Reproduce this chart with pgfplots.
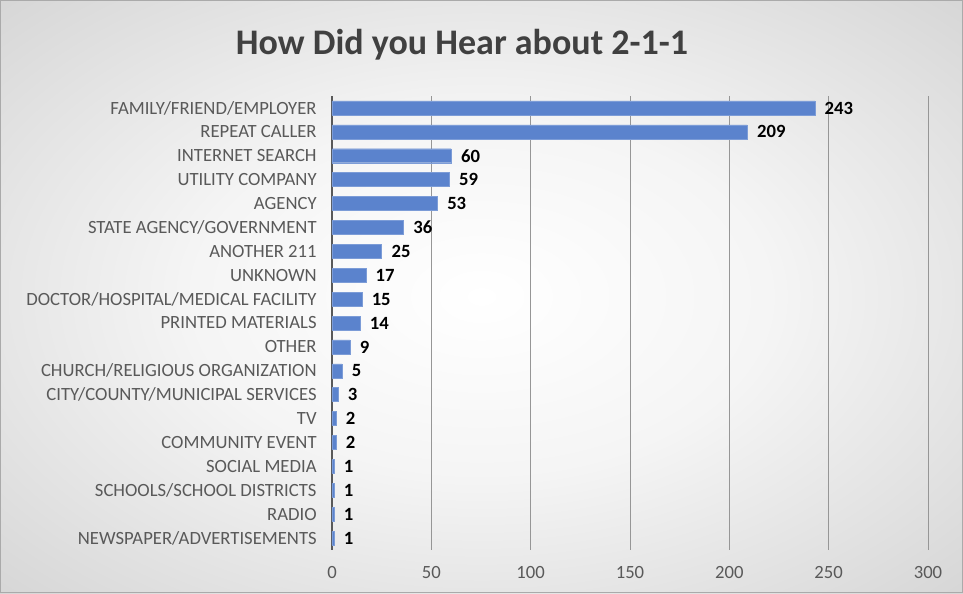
\documentclass[border=0pt]{standalone}
\usepackage{pgfplots}
\pgfplotsset{compat=1.18}
\usepackage{fontspec}
\setmainfont{Carlito}
\definecolor{barblue}{RGB}{91,131,205}
\definecolor{gridgray}{RGB}{150,150,150}
\definecolor{txtgray}{RGB}{89,89,89}
\definecolor{titlegray}{RGB}{64,64,64}
\definecolor{edgegray}{RGB}{200,200,200}
\definecolor{framegray}{RGB}{170,170,170}
\pgfdeclareradialshading{bgshade}{\pgfpoint{0bp}{0bp}}{color(0bp)=(white); color(15bp)=(white!96!black); color(45bp)=(edgegray); color(80bp)=(edgegray!88!black)}
\begin{document}
\begin{tikzpicture}
\path[use as bounding box] (-249pt,-32.25pt) rectangle (473.25pt,412.5pt);
\shade[shading=bgshade] (-249pt,-32.25pt) rectangle (473.25pt,412.5pt);
\draw[framegray, line width=0.8pt] (-248.6pt,-31.85pt) rectangle (472.85pt,412.1pt);
\node[font=\fontsize{27}{32}\selectfont\bfseries, text=titlegray] at (97.5pt,378.75pt) {How Did you Hear about 2-1-1};
\begin{axis}[
  at={(0pt,0pt)}, anchor=south west,
  scale only axis, width=447pt, height=340.5pt,
  xbar, bar width=10.5pt,
  xmin=0, xmax=300, ymin=-0.5, ymax=18.5, y dir=reverse,
  xtick={0,50,...,300},
  ytick={0,...,18},
  yticklabels={FAMILY/FRIEND/EMPLOYER, REPEAT CALLER, INTERNET SEARCH, UTILITY COMPANY, AGENCY, STATE AGENCY/GOVERNMENT, ANOTHER 211, UNKNOWN, DOCTOR/HOSPITAL/MEDICAL FACILITY, PRINTED MATERIALS, OTHER, CHURCH/RELIGIOUS ORGANIZATION, CITY/COUNTY/MUNICIPAL SERVICES, TV, COMMUNITY EVENT, SOCIAL MEDIA, SCHOOLS/SCHOOL DISTRICTS, RADIO, NEWSPAPER/ADVERTISEMENTS},
  /pgf/number format/assume math mode=true,
  xmajorgrids, major grid style={gridgray, line width=0.6pt},
  axis lines*=left, axis line style={-},
  x axis line style={draw=none},
  y axis line style={black!65, line width=1.2pt},
  major tick length=0pt,
  tick style={draw=none},
  xticklabel style={font=\fontsize{14}{16}\selectfont, text=txtgray, yshift=-9pt},
  yticklabel style={font=\fontsize{14}{16}\selectfont, text=txtgray, xshift=-8pt},
  nodes near coords,
  every node near coord/.append style={font=\fontsize{14}{16}\selectfont\bfseries, text=black, anchor=west, xshift=4pt},
]
\addplot[fill=barblue, draw=barblue!80!white, line width=0.3pt] coordinates {
(243,0) (209,1) (60,2) (59,3) (53,4) (36,5) (25,6) (17,7) (15,8) (14,9) (9,10) (5,11) (3,12) (2,13) (2,14) (1,15) (1,16) (1,17) (1,18)
};
\end{axis}
\end{tikzpicture}
\end{document}
